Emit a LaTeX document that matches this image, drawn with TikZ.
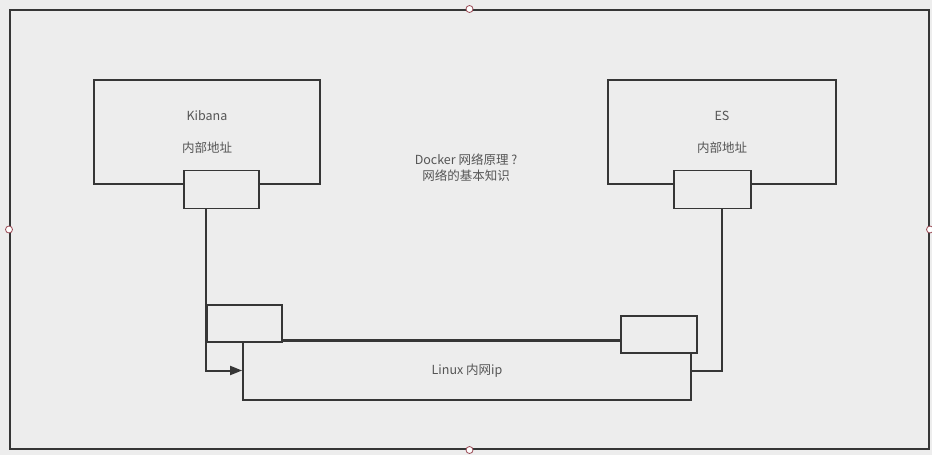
\documentclass[tikz,border=0pt]{standalone}
\usepackage{fontspec}
\setmainfont{Noto Sans CJK SC}
\usetikzlibrary{arrows.meta}
\definecolor{bggray}{HTML}{EDEDED}
\definecolor{linegray}{HTML}{363636}
\definecolor{textgray}{HTML}{555555}
\definecolor{handlered}{HTML}{9A4A55}
\begin{document}
\begin{tikzpicture}[x=1pt,y=-1pt,
    box/.style={draw=linegray,line width=1.8pt,inner sep=0pt,fill=bggray,
      text=textgray,align=center,font=\fontsize{12.5}{32}\selectfont},
    port/.style={box,minimum width=75pt,minimum height=38pt},
    wire/.style={draw=linegray,line width=2pt},
    handle/.style={draw=handlered,fill=white,line width=0.8pt,circle,inner sep=0pt,minimum size=7pt}]
  \useasboundingbox[fill=bggray] (0,0) rectangle (932,455);
  \draw
    (469.5,229.5) node[box,minimum width=919pt,minimum height=439pt,line width=2pt] (frame){}
    (207,132) node[box,minimum width=226pt,minimum height=104pt] (kibana){Kibana\\内部地址}
    (722,132) node[box,minimum width=228pt,minimum height=104pt] (es){ES\\内部地址}
    (221.5,189.5) node[port] (kport){}
    (712.5,189.5) node[port,minimum width=77pt] (esport){}
    (467,370.5) node[box,minimum width=448pt,minimum height=59pt] (linux){Linux 内网ip}
    (244.5,323.5) node[port,minimum height=37pt] (lport){}
    (659,334.5) node[port,minimum width=76pt,minimum height=37pt] (rport){}
    (466,168) node[text=textgray,align=center,font=\fontsize{12.5}{16}\selectfont] (title){Docker 网络原理 ?\\网络的基本知识};
  \begin{scope}[wire]
    \draw[-{Triangle[length=12pt,width=9pt]}] (kport.south -| lport.west) |- (linux.west);
    \draw (linux.north -| rport.west) -- (linux.north -| lport.east);
    \draw (esport.south -| es) |- (linux.east);
  \end{scope}
  \foreach \side in {north,south,west,east}
    \node[handle] at (frame.\side) {};
\end{tikzpicture}
\end{document}
